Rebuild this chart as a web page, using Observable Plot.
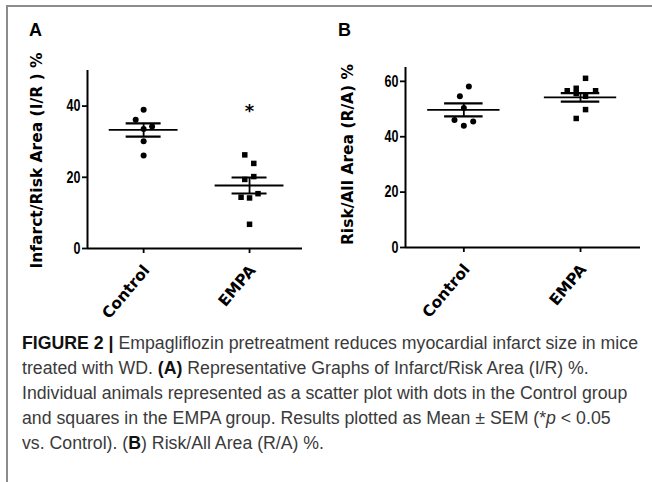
<!DOCTYPE html>
<html>
<head>
<meta charset="utf-8">
<script src="https://cdn.jsdelivr.net/npm/d3@7"></script>
<script src="https://cdn.jsdelivr.net/npm/@observablehq/plot@0.6"></script>
<style>
html, body { margin: 0; padding: 0; background: #fff; width: 652px; height: 482px; overflow: hidden; }
#frame { position: absolute; left: 6px; top: 5px; width: 700px; height: 600px; border-left: 2px solid #8c8c8c; border-top: 2px solid #8c8c8c; }
.panel { position: absolute; top: 0; }
#panelA { left: 0; }
#panelB { left: 326px; }
.letter { position: absolute; font: bold 18px "Liberation Sans", Arial, sans-serif; line-height: 1; color: #000; }
#caption { position: absolute; left: 22px; top: 331px; font-family: "Liberation Sans", Arial, sans-serif; font-size: 17.5px; line-height: 25px; color: #3a3a3a; white-space: nowrap; transform-origin: 0 0; }
#caption div { display: block; }
#caption span.l { display: inline-block; }
#caption b { color: #111; }
</style>
</head>
<body>
<div id="frame"></div>
<div id="panelA" class="panel"></div>
<div id="panelB" class="panel"></div>
<div class="letter" style="left:29px;top:21px;">A</div>
<div class="letter" style="left:338px;top:21px;">B</div>
<div id="caption">
<div><span class="l" id="line1"><b>FIGURE 2 |</b> Empagliflozin pretreatment reduces myocardial infarct size in mice</span></div>
<div>treated with WD. <b>(A)</b> Representative Graphs of Infarct/Risk Area (I/R) %.</div>
<div>Individual animals represented as a scatter plot with dots in the Control group</div>
<div>and squares in the EMPA group. Results plotted as Mean ± SEM (*<i>p</i> &lt; 0.05</div>
<div>vs. Control). (<b>B</b>) Risk/All Area (R/A) %.</div>
</div>
<script>
// ---- data ----
const groups = ["Control", "EMPA"];

// Panel A: Infarct/Risk Area (I/R) %
const infarctControl = [39.0, 36.2, 34.3, 33.6, 30.1, 26.1];
const infarctControlJitter = [0, -0.075, 0.08, 0, 0, 0];
const infarctEmpa = [26.3, 23.9, 20.2, 19.4, 15.4, 14.4, 14.2, 6.8];
const infarctEmpaJitter = [-0.045, 0.04, 0.04, -0.045, 0.08, -0.08, 0, 0];
const infarctMean = [33.3, 17.7];
const infarctSem = [1.85, 2.25];
const infarctTicks = [0, 20, 40];
const infarctStar = "*";
const infarctStarY = 38.6;

// Panel B: Risk/All Area (R/A) %
const riskControl = [58.1, 54.6, 50.4, 46.0, 45.5, 44.0];
const riskControlJitter = [0.043, -0.034, 0, -0.08, 0.08, 0];
const riskEmpa = [61.1, 57.5, 56.6, 56.6, 55.6, 54.6, 49.8, 46.6];
const riskEmpaJitter = [0.043, -0.037, -0.114, 0.129, -0.037, 0.043, 0.043, -0.037];
const riskMean = [49.7, 54.2];
const riskSem = [2.35, 1.55];
const riskTicks = [0, 20, 40, 60];

const labelFont = "DejaVu Sans, Verdana, sans-serif";
const tickFont = "Liberation Sans, Arial, sans-serif";

function rows(values, jitter, gi) {
  return values.map((v, j) => ({group: groups[gi], x: gi + jitter[j], y: v}));
}

function panel(o) {
  const idx = [0, 1];
  const ctrl = rows(o.ctrl, o.ctrlJ, 0);
  const empa = rows(o.empa, o.empaJ, 1);
  const marks = [
    Plot.ruleY([0], {strokeWidth: 2}),
    Plot.ruleX([o.xDomain[0]], {strokeWidth: 2}),
    Plot.axisY({ticks: o.yTicks, tickSize: 5, tickPadding: 2, tickFormat: d => d, label: null,
      fontSize: 16.5, fontWeight: "bold", fontFamily: tickFont, strokeWidth: 1.8}),
    // x tick marks
    Plot.axisX({ticks: [0, 1], tickFormat: () => "", tickSize: 5, label: null, strokeWidth: 1.8}),
    // x tick labels, rotated
    Plot.axisX({ticks: [0, 1], tickFormat: i => groups[i], tickSize: 0, tickPadding: 0, tickRotate: -50, label: null,
      fontSize: 15.5, fontWeight: "bold", fontFamily: labelFont, dy: 19, dx: 3}),
    Plot.dot(ctrl, {x: "x", y: "y", r: 3, fill: "black", symbol: "circle"}),
    Plot.dot(empa, {x: "x", y: "y", r: 3.1, fill: "black", symbol: "square"}),
    Plot.ruleY(idx, {y: i => o.mean[i], x1: i => i - o.halfMean, x2: i => i + o.halfMean, strokeWidth: 1.8}),
    Plot.ruleY(idx, {y: i => o.mean[i] + o.sem[i], x1: i => i - o.halfSem, x2: i => i + o.halfSem, strokeWidth: 2.2}),
    Plot.ruleY(idx, {y: i => o.mean[i] - o.sem[i], x1: i => i - o.halfSem, x2: i => i + o.halfSem, strokeWidth: 2.2}),
    Plot.ruleX(idx, {x: i => i, y1: i => o.mean[i] - o.sem[i], y2: i => o.mean[i] + o.sem[i], strokeWidth: 1.8}),
    Plot.text([o.yLabel], {frameAnchor: "left", textAnchor: "middle", dx: o.labelDx, dy: o.labelDy, rotate: -90, text: d => d,
      fontSize: 15.5, fontWeight: "bold", fontFamily: labelFont, fill: "black"})
  ];
  if (o.star) marks.push(Plot.text([o.star], {x: 1, y: o.starY, text: d => d, fontSize: 18, fontWeight: "bold", fontFamily: labelFont}));
  const svg = Plot.plot({
    width: 326, height: 320,
    marginLeft: o.margins[0], marginRight: o.margins[1], marginTop: o.margins[2], marginBottom: o.margins[3],
    x: {type: "linear", domain: o.xDomain},
    y: {type: "linear", domain: o.yDomain},
    style: {background: "transparent", overflow: "visible", color: "black"},
    marks
  });
  // condensed look for the y tick numbers (GraphPad style narrow bold)
  d3.select(svg).selectAll('g[aria-label="y-axis tick label"] text')
    .attr("transform", function() { return (this.getAttribute("transform") || "") + " scale(0.76,1)"; });
  return svg;
}

document.getElementById("panelA").append(panel({
  ctrl: infarctControl, ctrlJ: infarctControlJitter, empa: infarctEmpa, empaJ: infarctEmpaJitter,
  mean: infarctMean, sem: infarctSem, yTicks: infarctTicks, yDomain: [0, 50], xDomain: [-0.53, 1.5],
  margins: [87, 24, 70, 72], halfMean: 0.325, halfSem: 0.165,
  yLabel: "Infarct/Risk Area (I/R ) %", labelDx: -50, labelDy: 1,
  star: infarctStar, starY: infarctStarY
}));

document.getElementById("panelB").append(panel({
  ctrl: riskControl, ctrlJ: riskControlJitter, empa: riskEmpa, empaJ: riskEmpaJitter,
  mean: riskMean, sem: riskSem, yTicks: riskTicks, yDomain: [0, 65], xDomain: [-0.5, 1.514],
  margins: [79, 12, 67, 73], halfMean: 0.31, halfSem: 0.165,
  yLabel: "Risk/All Area (R/A) %", labelDx: -57.5, labelDy: -3
}));

// fit the caption's first line to the reference width (616 px)
const cap = document.getElementById("caption");
const w = document.getElementById("line1").getBoundingClientRect().width;
cap.style.transform = `scaleX(${616 / w})`;
</script>
</body>
</html>
